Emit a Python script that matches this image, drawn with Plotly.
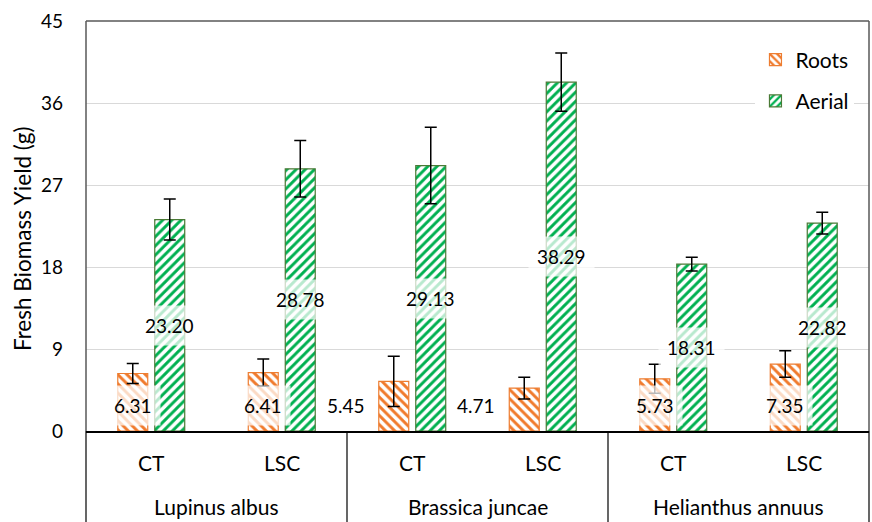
import plotly.graph_objects as go

species = ["Lupinus albus", "Lupinus albus", "Brassica juncae", "Brassica juncae",
           "Helianthus annuus", "Helianthus annuus"]
treatments = ["CT", "LSC", "CT", "LSC", "CT", "LSC"]
species_groups = ["Lupinus albus", "Brassica juncae", "Helianthus annuus"]
roots = [6.31, 6.41, 5.45, 4.71, 5.73, 7.35]
roots_err = [1.1, 1.5, 2.75, 1.2, 1.6, 1.45]
aerial = [23.20, 28.78, 29.13, 38.29, 18.31, 22.82]
aerial_err = [2.25, 3.1, 4.2, 3.2, 0.75, 1.2]
y_ticks = [0, 9, 18, 27, 36, 45]

# style
FONT = "Lato"
NUM_SIZE = 19
TXT_SIZE = 21
ORANGE = "#F07A2C"
ORANGE_LINE = "#ED7D31"
GREEN = "#00B050"
GREEN_LINE = "#4A7A36"
BARGAP = 0.433
GROUPGAP = 0.19
root_label_shift = {2: -48, 3: -48}  # labels dragged left in the original

fig = go.Figure()
fig.add_trace(go.Bar(
    name="Roots", x=[species, treatments], y=roots,
    marker=dict(color="white", line=dict(color=ORANGE_LINE, width=1.2),
                pattern=dict(shape="\\", fgcolor=ORANGE, bgcolor="white",
                             size=6.5, solidity=0.45, fillmode="replace")),
    error_y=dict(type="data", array=roots_err, color="black", thickness=1.5, width=6),
    legendgroup="r",
))
fig.add_trace(go.Bar(
    name="Aerial", x=[species, treatments], y=aerial,
    marker=dict(color="white", line=dict(color=GREEN_LINE, width=1.2),
                pattern=dict(shape="/", fgcolor=GREEN, bgcolor="white",
                             size=6.5, solidity=0.45, fillmode="replace")),
    error_y=dict(type="data", array=aerial_err, color="black", thickness=1.5, width=6),
    legendgroup="a",
))

half = (1 - BARGAP) / 4
anns = []
for i, v in enumerate(roots):
    anns.append(dict(x=i - half, y=0, xref="x", yref="y", text=f"{v:.2f}",
                     showarrow=False, yanchor="bottom", yshift=5,
                     xshift=root_label_shift.get(i, 0),
                     bgcolor="rgba(255,255,255,0.72)", borderpad=8,
                     font=dict(family=FONT, size=NUM_SIZE, color="black")))
for i, v in enumerate(aerial):
    anns.append(dict(x=i + half, y=v / 2, xref="x", yref="y", text=f"{v:.2f}",
                     showarrow=False, yanchor="middle",
                     bgcolor="rgba(255,255,255,0.72)", borderpad=8,
                     font=dict(family=FONT, size=NUM_SIZE, color="black")))
# two-level category labels
for i, t in enumerate(treatments):
    anns.append(dict(x=i, y=-0.078, xref="x", yref="paper", text=t, showarrow=False,
                     yanchor="middle", font=dict(family=FONT, size=TXT_SIZE, color="black")))
for g, s in enumerate(species_groups):
    anns.append(dict(x=2 * g + 0.5, y=-0.183, xref="x", yref="paper", text=s,
                     showarrow=False, yanchor="middle",
                     font=dict(family=FONT, size=TXT_SIZE, color="black")))
# y-axis title
anns.append(dict(x=(22 - 86) / 783, y=0.468, xref="paper", yref="paper",
                 text="Fresh Biomass Yield (g)",
                 showarrow=False, textangle=-90, xanchor="center", yanchor="middle",
                 font=dict(family=FONT, size=22.5, color="black")))

# frame / multilevel-axis lines
ybot = -91 / 410
n_groups = len(species_groups)
shapes = []
for k in range(n_groups + 1):
    shapes.append(dict(type="line", xref="paper", yref="paper",
                       x0=k / n_groups, x1=k / n_groups, y0=0, y1=ybot,
                       line=dict(color="black", width=1.2)))
shapes.append(dict(type="line", xref="paper", yref="paper", x0=0, x1=0, y0=0, y1=1,
                   line=dict(color="#595959", width=1.5)))
shapes.append(dict(type="line", xref="paper", yref="paper", x0=1, x1=1, y0=0, y1=1,
                   line=dict(color="#595959", width=1.5)))
shapes.append(dict(type="line", xref="paper", yref="paper", x0=0, x1=1, y0=1, y1=1,
                   line=dict(color="#595959", width=1.5)))

fig.update_layout(
    width=872, height=522,
    margin=dict(l=86, r=3, t=21, b=91),
    paper_bgcolor="white", plot_bgcolor="white",
    barmode="group", bargap=BARGAP, bargroupgap=GROUPGAP,
    font=dict(family=FONT, size=NUM_SIZE, color="black"),
    showlegend=True,
    legend=dict(x=0.855, y=0.955, xanchor="left", yanchor="top",
                bgcolor="white", tracegroupgap=11, traceorder="grouped",
                font=dict(family=FONT, size=TXT_SIZE, color="black")),
    annotations=anns, shapes=shapes,
)
fig.update_yaxes(range=[0, 45], tickvals=y_ticks, showgrid=True, gridcolor="#D9D9D9",
                 gridwidth=1.2, zeroline=False, showline=False, ticks="",
                 ticklabelstandoff=22,
                 tickfont=dict(family=FONT, size=NUM_SIZE))
fig.update_xaxes(showline=True, linecolor="black", linewidth=2, showdividers=False,
                 showticklabels=False, ticks="")

fig.write_html("out.html")
